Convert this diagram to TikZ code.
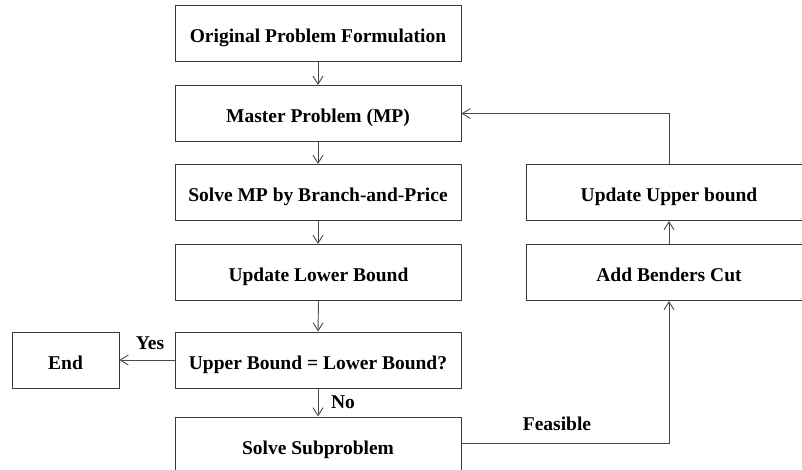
\documentclass[tikz,border=0pt]{standalone}
\usepackage{fontspec}
\setmainfont{Liberation Serif}
\usetikzlibrary{arrows.meta}
\definecolor{boxline}{HTML}{3A3A3A}
\definecolor{arrline}{HTML}{4A4A4A}
\tikzset{
  flowbox/.style={draw=boxline, line width=1pt, minimum width=286pt, minimum height=56pt,
    inner sep=0pt, text height=18pt, text depth=0pt,
    font=\fontsize{19.5}{22}\selectfont\bfseries, text=black},
  endbox/.style={flowbox, minimum width=107pt},
  conn/.style={draw=arrline, line width=0.9pt, -{Straight Barb[length=8pt,width=10pt,line width=0.9pt]}},
  lbl/.style={font=\fontsize{19.5}{22}\selectfont\bfseries, text=black, inner sep=0pt}
}
\begin{document}
\begin{tikzpicture}[x=1pt,y=-1pt]
\useasboundingbox (0,0) rectangle (802,470);
\clip (0,0) rectangle (802,470);
\fill[white] (0,0) rectangle (802,470);
\node[flowbox] (orig) at (318,34) {Original Problem Formulation};
\node[flowbox] (mp) at (318,113.5) {Master Problem (MP)};
\node[flowbox] (bp) at (318,192.5) {Solve MP by Branch-and-Price};
\node[flowbox] (lb) at (318.5,272.5) {Update Lower Bound};
\node[flowbox] (ub) at (318,360) {Upper Bound = Lower Bound?};
\node[endbox] (end) at (65.5,360) {End};
\node[flowbox] (sub) at (318,445) {Solve Subproblem};
\node[flowbox] (upd) at (669,192.5) {Update Upper bound};
\node[flowbox] (cut) at (669,272.5) {Add Benders Cut};
\coordinate (c1) at (669,113.5);
\coordinate (c2) at (669,443);
\draw[conn] (orig) -- (mp);
\draw[conn] (mp) -- (bp);
\draw[conn] (bp.south) -- (lb.north -| bp.south);
\draw[conn] (lb.south) -- (ub.north);
\draw[conn] (ub) -- (end);
\draw[conn] (ub) -- (sub);
\draw[conn] (sub.east |- c2) -- (c2) -- (cut.south);
\draw[conn] (cut) -- (upd);
\draw[conn] (upd.north) -- (c1) -- (mp.east);
\node[lbl] (yes) at (150,343) {Yes};
\node[lbl] (no) at (343,402) {No};
\node[lbl] (feas) at (557,424) {Feasible};
\end{tikzpicture}
\end{document}
